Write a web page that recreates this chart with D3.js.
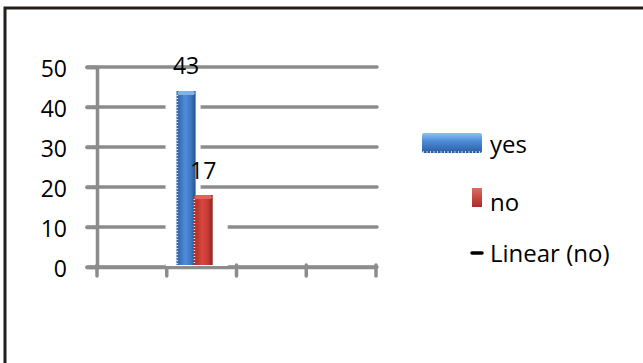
<!DOCTYPE html>
<html>
<head>
<meta charset="utf-8">
<script src="https://cdn.jsdelivr.net/npm/d3@7"></script>
<style>
  html, body { margin: 0; padding: 0; background: #fff; }
  svg { display: block; }
  text { font-family: "Open Sans", sans-serif; fill: #000; }
</style>
</head>
<body>
<svg id="chart" width="643" height="363"></svg>
<script>
// ---- data ----
const categories = ["1", "2", "3", "4"];
const yesValues = [null, 43, null, null];
const noValues = [null, 17, null, null];
const seriesNames = ["yes", "no"];
const legendLabels = ["yes", "no", "Linear (no)"];
const yTicks = [0, 10, 20, 30, 40, 50];

const svg = d3.select("#chart");

// defs: gradients
const defs = svg.append("defs");
function hGrad(id, stops) {
  const g = defs.append("linearGradient").attr("id", id)
    .attr("x1", "0%").attr("x2", "100%").attr("y1", "0%").attr("y2", "0%");
  stops.forEach(s => g.append("stop").attr("offset", s[0]).attr("stop-color", s[1]));
}
function vGrad(id, stops) {
  const g = defs.append("linearGradient").attr("id", id)
    .attr("x1", "0%").attr("x2", "0%").attr("y1", "0%").attr("y2", "100%");
  stops.forEach(s => g.append("stop").attr("offset", s[0]).attr("stop-color", s[1]));
}
hGrad("blueG", [["0%", "#2b5fa6"], ["45%", "#4f8ddb"], ["75%", "#3f78c4"], ["100%", "#24518f"]]);
hGrad("redG", [["0%", "#a52a26"], ["45%", "#d9463f"], ["75%", "#c63a34"], ["100%", "#8e2320"]]);
vGrad("blueV", [["0%", "#8fc0f2"], ["40%", "#4e8cd8"], ["100%", "#2a5da4"]]);
vGrad("redV", [["0%", "#e06a62"], ["100%", "#a82b27"]]);
const colors = { yes: "url(#blueG)", no: "url(#redG)" };
const capColors = { yes: "#7fb2ee", no: "#e2625b" };

// outer frame
svg.append("rect").attr("x", 5).attr("y", 8).attr("width", 700).attr("height", 420)
  .attr("fill", "none").attr("stroke", "#231f1c").attr("stroke-width", 3);

// scales
const x = d3.scaleBand().domain(categories).range([97, 376]).padding(0);
const y = d3.scaleLinear().domain([0, 50]).range([267, 67]);
const sub = d3.scaleBand().domain(seriesNames)
  .range([x.bandwidth() * 0.14, x.bandwidth() * 0.63]).padding(0);

// gridlines
const grid = svg.append("g");
grid.selectAll("line").data(yTicks.filter(d => d > 0)).join("line")
  .attr("x1", 87).attr("x2", 377)
  .attr("y1", d => y(d)).attr("y2", d => y(d))
  .attr("stroke", "#8c8c8c").attr("stroke-width", 3.5).attr("stroke-linecap", "round");

// y axis (d3 axis, restyled)
const yAxis = svg.append("g").attr("transform", "translate(97,0)")
  .call(d3.axisLeft(y).tickValues(yTicks).tickSize(10).tickPadding(20));
yAxis.select(".domain").attr("stroke", "#8c8c8c").attr("stroke-width", 3.5);
yAxis.selectAll(".tick line").attr("stroke", "#8c8c8c").attr("stroke-width", 3.5).attr("stroke-linecap", "round");
yAxis.selectAll(".tick text").attr("font-size", 23).attr("font-family", "Open Sans, sans-serif")
  .attr("fill", "#000").attr("dy", "0.42em");

// x axis
const xAxis = svg.append("g").attr("transform", "translate(0,267)")
  .call(d3.axisBottom(x).tickSize(0).tickFormat(""));
xAxis.select(".domain").attr("stroke", "#8c8c8c").attr("stroke-width", 3.5);
const xTickPos = [x.range()[0]].concat(categories.map(c => x(c) + x.bandwidth()));
svg.append("g").selectAll("line").data(xTickPos).join("line")
  .attr("x1", d => d).attr("x2", d => d).attr("y1", 265).attr("y2", 276)
  .attr("stroke", "#8c8c8c").attr("stroke-width", 3.5).attr("stroke-linecap", "round");
svg.append("line").attr("x1", 87).attr("x2", 377).attr("y1", 267).attr("y2", 267)
  .attr("stroke", "#8c8c8c").attr("stroke-width", 3.5).attr("stroke-linecap", "round");

// bar data
const barData = [];
categories.forEach((c, i) => {
  if (yesValues[i] != null) barData.push({ cat: c, s: "yes", v: yesValues[i] });
  if (noValues[i] != null) barData.push({ cat: c, s: "no", v: noValues[i] });
});

const bars = svg.append("g");
barData.forEach(d => {
  const bx = x(d.cat) + sub(d.s);
  const bw = sub.bandwidth() + 2;
  const top = y(d.v) - 4;
  // white occlusion behind (3D depth)
  bars.append("rect")
    .attr("x", bx - (d.s === "yes" ? 11 : 5))
    .attr("y", d.s === "yes" ? top + 12 : top + 2)
    .attr("width", bw + (d.s === "yes" ? 16 : 20))
    .attr("height", 266 - (d.s === "yes" ? top + 12 : top + 2))
    .attr("fill", "#fff");
});
barData.forEach(d => {
  const bx = x(d.cat) + sub(d.s);
  const bw = sub.bandwidth() + 2;
  const top = y(d.v) - 4;
  bars.append("rect").attr("x", bx).attr("y", top).attr("width", bw).attr("height", 265 - top)
    .attr("fill", colors[d.s]);
  bars.append("rect").attr("x", bx + 1).attr("y", top).attr("width", bw - 2).attr("height", 4)
    .attr("fill", capColors[d.s]).attr("rx", 1.5);
  bars.append("line").attr("x1", bx + 0.8).attr("x2", bx + 0.8).attr("y1", top + 4).attr("y2", 265)
    .attr("stroke", "#fff").attr("stroke-width", 1.6).attr("stroke-dasharray", "1,2").attr("opacity", 0.85);
  // value label
  svg.append("text").attr("x", bx + bw / 2).attr("y", d.s === "yes" ? y(50) + 7 : y(d.v) - 20)
    .attr("text-anchor", "middle").attr("font-size", 23).text(d.v);
});

// legend
const lg = svg.append("g");
lg.append("rect").attr("x", 422).attr("y", 133).attr("width", 60).attr("height", 20)
  .attr("fill", "url(#blueV)").attr("rx", 2);
lg.append("line").attr("x1", 423).attr("x2", 481).attr("y1", 152).attr("y2", 152)
  .attr("stroke", "#fff").attr("stroke-width", 1.5).attr("stroke-dasharray", "1,2.5");
lg.append("rect").attr("x", 472).attr("y", 188).attr("width", 10).attr("height", 19)
  .attr("fill", "url(#redV)");
lg.append("line").attr("x1", 472).attr("x2", 482).attr("y1", 253).attr("y2", 253)
  .attr("stroke", "#000").attr("stroke-width", 3.5).attr("stroke-linecap", "round");
const legendY = [144, 202, 253];
lg.selectAll("text").data(legendLabels).join("text")
  .attr("x", 490).attr("y", (d, i) => legendY[i]).attr("dy", "0.36em")
  .attr("font-size", 24).text(d => d);
</script>
</body>
</html>
